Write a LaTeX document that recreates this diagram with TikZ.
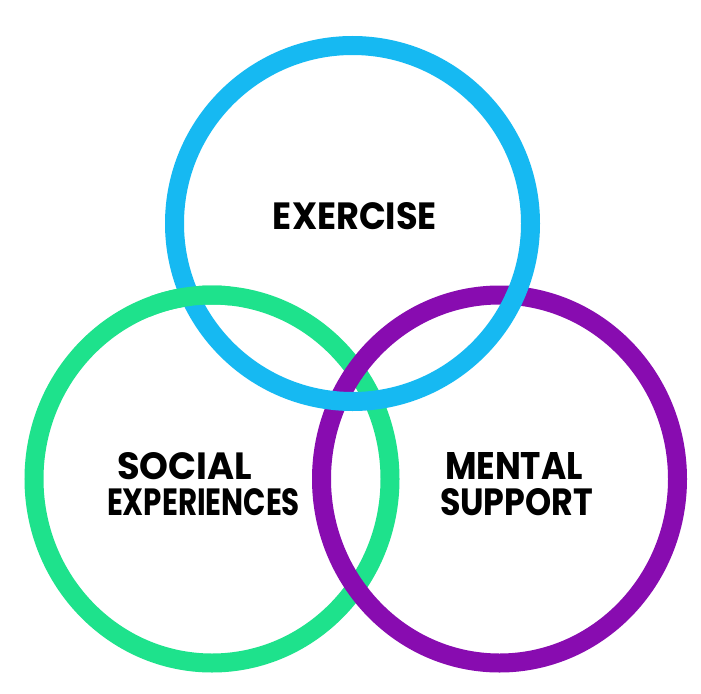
\documentclass[tikz,border=0pt]{standalone}
\usepackage{fontspec}
\setmainfont{Poppins}
\definecolor{ringblue}{RGB}{22,185,242}
\definecolor{ringgreen}{RGB}{30,226,140}
\definecolor{ringpurple}{RGB}{136,12,176}
\newcommand{\fitlabel}[2]{\resizebox{#1}{27pt}{#2}}
\begin{document}
\begin{tikzpicture}[x=1pt,y=-1pt,
  ring/.style={line width=19pt},
  lbl/.style={font=\fontsize{38}{40}\selectfont\bfseries, inner sep=0pt, anchor=base}]
\useasboundingbox[fill=white] (0,0) rectangle (701,693);
% rings
\draw[ring, ringgreen] (212,479) ellipse [x radius=178, y radius=184];
\draw[ring, ringpurple] (499.5,479) ellipse [x radius=178, y radius=184];
\draw[ring, ringblue] (352.5,223.5) circle [radius=178];
% green over blue at the upper-left crossing
\begin{scope}
  \clip (150,265) rectangle (230,325);
  \draw[ring, ringgreen] (212,479) ellipse [x radius=178, y radius=184];
\end{scope}
% labels
\node[lbl] (ex) at (355,229) {\fitlabel{164pt}{EXERCISE}};
\node[lbl] (so) at (184.5,479) {\fitlabel{135pt}{SOCIAL}};
\node[lbl] (sx) at (203.5,515) {\fitlabel{193pt}{EXPERIENCES}};
\node[lbl] (me) at (514,479) {\fitlabel{138pt}{MENTAL}};
\node[lbl] (su) at (516.5,515) {\fitlabel{153pt}{SUPPORT}};
\end{tikzpicture}
\end{document}
